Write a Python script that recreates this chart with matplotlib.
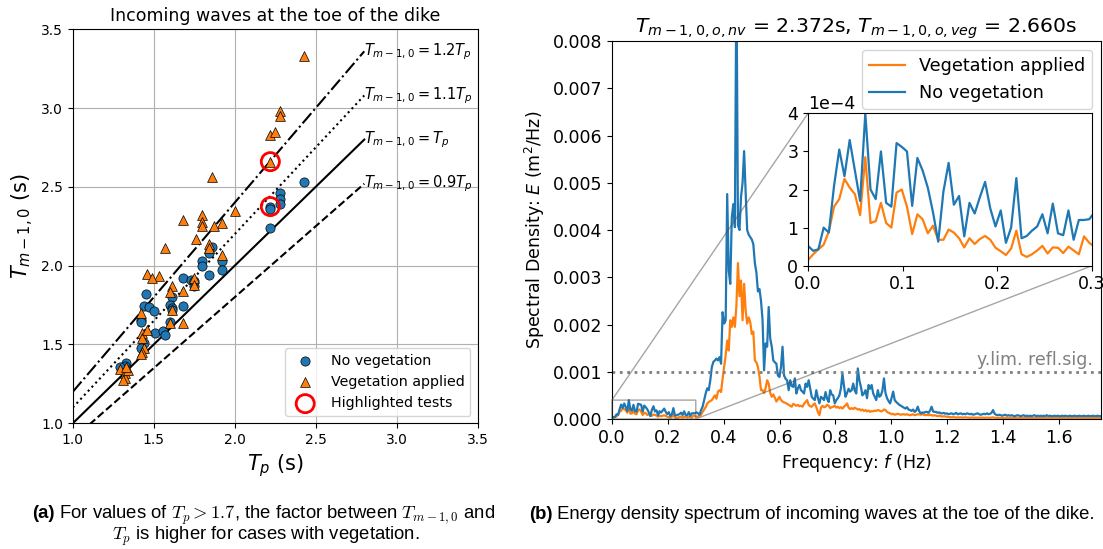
import numpy as np
import matplotlib
matplotlib.use("Agg")
import matplotlib.pyplot as plt
from matplotlib.offsetbox import TextArea, HPacker, AnchoredOffsetbox

# ---- (a) wave periods at the toe of the dike ----
nv_tp = [2.43, 2.28, 2.28, 2.28, 2.22, 2.22, 2.22, 1.86, 1.84, 1.80, 1.80, 1.84, 1.92,
         1.92, 1.68, 1.73, 1.75, 1.75, 1.45, 1.61, 1.60, 1.61, 1.44, 1.47, 1.50, 1.68,
         1.42, 1.42, 1.60, 1.51, 1.56, 1.57, 1.44, 1.42, 1.33, 1.32, 1.29, 1.61]
nv_tm = [2.53, 2.46, 2.42, 2.39, 2.375, 2.36, 2.24, 2.12, 2.08, 2.03, 2.00, 1.94, 2.03,
         1.97, 1.92, 1.91, 1.87, 1.90, 1.82, 1.80, 1.75, 1.73, 1.745, 1.74, 1.715, 1.745,
         1.655, 1.64, 1.645, 1.575, 1.585, 1.56, 1.51, 1.475, 1.38, 1.365, 1.355, 1.72]

veg_tp = [2.43, 2.28, 2.28, 2.22, 2.25, 2.22, 1.86, 2.00, 1.80, 1.80, 1.80, 1.92, 1.87,
          1.68, 1.76, 1.84, 1.84, 1.92, 1.57, 1.46, 1.53, 1.49, 1.75, 1.75, 1.68, 1.61,
          1.60, 1.61, 1.42, 1.43, 1.43, 1.46, 1.68, 1.60, 1.44, 1.43, 1.42, 1.29, 1.32,
          1.32, 1.31, 1.34, 1.33]
veg_tm = [3.33, 2.98, 2.95, 2.83, 2.845, 2.66, 2.565, 2.35, 2.32, 2.28, 2.25, 2.27, 2.25,
          2.29, 2.17, 2.135, 2.11, 2.07, 2.11, 1.95, 1.935, 1.92, 1.92, 1.88, 1.84, 1.87,
          1.83, 1.72, 1.70, 1.575, 1.54, 1.595, 1.635, 1.635, 1.475, 1.455, 1.44, 1.345,
          1.32, 1.29, 1.275, 1.34, 1.36]

hl_tp = [2.22, 2.22]
hl_tm = [2.66, 2.375]

factors = [1.2, 1.1, 1.0, 0.9]
factor_styles = ["-.", ":", "-", "--"]
factor_labels = [r"$T_{m-1,0} = 1.2T_p$", r"$T_{m-1,0} = 1.1T_p$",
                 r"$T_{m-1,0} = T_p$", r"$T_{m-1,0} = 0.9T_p$"]

# ---- (b) energy density spectrum, values in 1e-4 m^2/Hz, df = 0.0055 Hz ----
DF = 0.0055
spec_noveg = [
    0.52, 0.39, 0.43, 1.0, 0.87, 2.1, 3.05, 2.35, 3.3, 2.5,
    1.7, 4.0, 2.0, 1.75, 3.0, 1.65, 1.55, 3.22, 3.12, 3.0,
    1.57, 2.83, 2.5, 2.05, 1.4, 0.63, 1.95, 2.7, 1.6, 1.83,
    0.77, 1.65, 1.37, 1.8, 2.2, 1.5, 1.03, 1.45, 0.6, 1.0,
    2.3, 0.72, 0.78, 0.92, 1.03, 1.35, 0.85, 1.63, 0.85, 0.8,
    1.45, 0.68, 1.2, 1.2, 1.22,
    1.4, 1.2, 0.9, 1.9, 2.6, 4.0, 5.4, 6.5, 6.1, 8.2,
    11.0, 12.1, 12.4, 12.8, 12.4, 13.1, 11.7, 22.6, 20.2, 20.9,
    47.6, 31.4, 28.6, 42.7, 45.5, 40.6, 95.0, 41.0, 40.0, 47.0,
    50.0, 56.7, 48.0, 40.0, 39.0, 38.5, 38.0, 37.0, 33.0, 31.0,
    27.0, 27.5, 25.0, 21.0, 10.3,
    16.0, 15.3, 23.7, 17.0, 15.3, 12.4, 12.0, 11.7, 9.2, 8.9,
    11.0, 15.3, 9.2, 8.5, 8.2, 6.1, 8.2, 7.0, 6.8, 8.6,
    5.4, 6.5, 7.2, 6.1, 5.8, 5.4, 7.5, 6.8, 8.2, 6.4,
    4.7, 4.3, 4.0, 6.1, 4.5, 3.3, 4.7, 4.4, 4.0, 5.7,
    4.3, 3.6, 6.1, 5.2, 5.0, 3.3, 4.0, 4.4, 5.0, 6.5,
    9.6, 7.0, 4.7, 5.5, 6.4, 5.8, 6.1, 7.5, 6.0, 5.4,
    10.7, 8.2, 6.8, 5.0, 5.4, 6.1, 4.4, 7.2, 6.4, 7.2,
    5.4, 4.7, 4.0, 6.1, 4.7, 5.0, 6.0, 8.6, 5.5, 4.4,
    3.8, 3.3, 4.5, 5.8, 4.0, 3.6, 3.3, 3.0, 2.8, 2.6,
    2.4, 2.2, 2.5, 2.0, 1.9, 1.7, 2.0, 1.5, 1.8, 2.6,
    1.6, 1.2, 1.4, 1.3, 1.5, 1.5, 1.3, 1.8, 2.6, 1.6,
    1.5, 1.5, 1.3, 1.4, 1.2, 1.2, 1.3, 1.1, 1.2, 1.0,
    1.1, 1.2, 1.0, 1.1, 1.3, 1.0, 1.1, 1.2, 1.0, 1.1,
    1.0, 1.2, 1.1, 1.0, 1.1, 0.9, 1.0, 1.1, 1.2, 1.0,
    0.9, 1.0, 1.1, 1.0, 1.2, 1.0, 1.1, 1.3, 1.9, 1.1,
    0.9, 0.8, 0.9, 0.8, 0.7, 0.8, 0.9, 0.7, 0.8, 0.7,
    0.8, 0.7, 0.6, 0.7, 0.8, 0.7, 0.6, 0.7, 0.8, 0.6,
    0.7, 0.6, 0.7, 0.6, 0.7, 0.8, 0.6, 0.7, 0.6, 0.7,
    0.6, 0.7, 0.6, 0.8, 0.6, 0.7, 0.6, 0.6, 0.7, 0.6,
    0.7, 0.6, 0.6, 0.7, 0.6, 0.7, 0.6, 0.6, 0.7, 0.6,
    0.6, 0.7, 0.6, 0.6, 0.7, 0.6, 0.6, 0.7, 0.6, 0.6,
    0.7, 0.6, 0.6, 0.7, 0.6, 0.6, 0.7, 0.6, 0.6,
]
spec_veg = [
    0.15, 0.3, 0.43, 0.55, 0.9, 1.55, 1.75, 2.28, 2.05, 1.88,
    1.33, 2.85, 1.12, 1.17, 1.65, 1.12, 1.0, 1.92, 2.0, 1.55,
    0.83, 1.35, 1.22, 0.85, 1.05, 0.68, 0.68, 0.95, 0.87, 0.72,
    0.48, 0.72, 0.57, 0.7, 0.78, 0.68, 0.47, 0.38, 0.28, 0.45,
    0.92, 0.3, 0.23, 0.3, 0.4, 0.52, 0.32, 0.48, 0.47, 0.33,
    0.5, 0.4, 0.3, 0.77, 0.6,
    0.5, 0.5, 0.7, 0.9, 1.5, 2.0, 2.5, 3.3, 3.6, 3.8,
    4.0, 4.5, 5.0, 4.3, 5.8, 6.1, 5.7, 8.5, 11.0, 13.5,
    16.6, 14.5, 20.9, 19.5, 21.5, 19.5, 24.0, 33.0, 26.0, 29.3,
    20.9, 28.6, 23.0, 20.2, 21.5, 20.5, 18.0, 18.5, 12.4, 12.0,
    11.0, 9.0, 6.1, 6.1, 5.5,
    6.5, 8.2, 7.5, 5.5, 4.7, 5.2, 4.5, 3.7, 4.2, 4.7,
    4.0, 3.7, 3.5, 3.4, 3.2, 3.0, 2.8, 2.6, 3.2, 3.0,
    2.8, 3.0, 2.7, 2.8, 2.6, 3.2, 3.6, 4.0, 3.0, 2.7,
    2.6, 3.0, 3.3, 2.5, 1.5, 0.8, 2.4, 2.8, 2.5, 2.6,
    3.0, 2.8, 2.3, 2.5, 2.6, 2.8, 2.4, 2.6, 2.3, 2.5,
    2.2, 2.6, 2.9, 3.3, 2.4, 2.1, 2.3, 2.1, 2.4, 2.2,
    2.0, 2.1, 1.8, 2.0, 1.7, 1.9, 1.6, 1.8, 1.5, 1.7,
    1.6, 1.8, 1.7, 1.9, 1.8, 1.6, 1.7, 2.0, 1.9, 1.5,
    1.3, 1.2, 1.0, 1.1, 0.9, 1.0, 1.1, 1.0, 0.9, 1.0,
    1.0, 0.9, 1.0, 0.9, 0.8, 0.9, 1.0, 0.8, 0.9, 1.0,
    1.0, 0.9, 1.0, 0.9, 0.8, 0.9, 0.8, 0.9, 0.8, 0.7,
    0.8, 0.7, 0.6, 0.7, 0.6, 0.5, 0.6, 0.5, 0.5, 0.4,
    0.4, 0.35, 0.4, 0.35, 0.3, 0.35, 0.3, 0.35, 0.3, 0.3,
    0.35, 0.3, 0.3, 0.25, 0.3, 0.3, 0.25, 0.3, 0.25, 0.3,
    0.25, 0.3, 0.25, 0.25, 0.3, 0.25, 0.25, 0.3, 0.35, 0.25,
    0.25, 0.2, 0.25, 0.2, 0.25, 0.2, 0.2, 0.25, 0.2, 0.2,
    0.2, 0.25, 0.2, 0.2, 0.15, 0.2, 0.2, 0.25, 0.2, 0.2,
    0.2, 0.15, 0.2, 0.2, 0.2, 0.15, 0.2, 0.2, 0.15, 0.2,
    0.2, 0.2, 0.15, 0.2, 0.15, 0.2, 0.2, 0.15, 0.2, 0.15,
    0.2, 0.15, 0.2, 0.15, 0.2, 0.15, 0.15, 0.2, 0.15, 0.2,
    0.15, 0.2, 0.15, 0.15, 0.2, 0.15, 0.15, 0.2, 0.15, 0.15,
    0.2, 0.15, 0.15, 0.2, 0.15, 0.15, 0.2, 0.15, 0.15,
]
REFL_LIMIT = 0.001
tm_nv = 2.372
tm_veg = 2.660

BLUE = "#1f77b4"
ORANGE = "#ff7f0e"

fig = plt.figure(figsize=(11.03, 5.49), dpi=100)

# ---------------- left panel ----------------
ax1 = fig.add_axes([0.066, 0.229, 0.367, 0.7177])
tp_line = np.array([1.0, 2.8])
for fac, ls, lab in zip(factors, factor_styles, factor_labels):
    ax1.plot(tp_line, fac * tp_line, color="k", ls=ls, lw=1.5, zorder=2)
    ax1.text(tp_line[-1], fac * tp_line[-1], lab, fontsize=10.5, ha="left", va="center")

ax1.scatter(nv_tp, nv_tm, s=44, c=BLUE, marker="o", edgecolors="k", linewidths=0.5,
            zorder=3, label="No vegetation")
ax1.scatter(veg_tp, veg_tm, s=50, c=ORANGE, marker="^", edgecolors="k", linewidths=0.5,
            zorder=3, label="Vegetation applied")
ax1.scatter(hl_tp, hl_tm, s=170, facecolors="none", edgecolors="red", linewidths=2,
            zorder=4, label="Highlighted tests")

ax1.set_xlim(1.0, 3.5)
ax1.set_ylim(1.0, 3.5)
ax1.set_xticks(np.arange(1.0, 3.51, 0.5))
ax1.set_yticks(np.arange(1.0, 3.51, 0.5))
ax1.tick_params(labelsize=10)
ax1.grid(True, zorder=0)
ax1.set_axisbelow(True)
ax1.set_title("Incoming waves at the toe of the dike", fontsize=12.5)
ax1.set_xlabel(r"$T_p$ (s)", fontsize=15)
ax1.set_ylabel(r"$T_{m-1,0}$ (s)", fontsize=15)
ax1.legend(loc="lower right", fontsize=10.3)

# ---------------- right panel ----------------
ax2 = fig.add_axes([0.5548, 0.2368, 0.4433, 0.6885])
freq = np.arange(len(spec_noveg)) * DF
e_nv = np.array(spec_noveg) * 1e-4
e_veg = np.array(spec_veg) * 1e-4

ax2.plot(freq, e_veg, color=ORANGE, lw=1.6, label="Vegetation applied")
ax2.plot(freq, e_nv, color=BLUE, lw=1.6, label="No vegetation")
ax2.axhline(REFL_LIMIT, color="gray", ls=":", lw=2)
ax2.text(1.72, REFL_LIMIT * 1.05, "y.lim. refl.sig.", color="gray", fontsize=12.5,
         ha="right", va="bottom")
ax2.set_xlim(0, 1.75)
ax2.set_ylim(0, 0.008)
ax2.set_xticks(np.arange(0, 1.61, 0.2))
ax2.set_yticks(np.arange(0, 0.0081, 0.001))
ax2.yaxis.set_major_formatter(plt.FormatStrFormatter("%.3f"))
ax2.tick_params(labelsize=12.5)
ax2.set_xlabel(r"Frequency: $f$ (Hz)", fontsize=12.5)
ax2.set_ylabel(r"Spectral Density: $E$ (m$^2$/Hz)", fontsize=12.5)
ax2.set_title(r"$T_{m-1,0,o,nv}$ = %.3fs, $T_{m-1,0,o,veg}$ = %.3fs" % (tm_nv, tm_veg),
              fontsize=14.7)
ax2.legend(loc="upper right", fontsize=12.7)

axins = ax2.inset_axes([0.401, 0.4056, 0.581, 0.403])
axins.plot(freq, e_veg, color=ORANGE, lw=1.6)
axins.plot(freq, e_nv, color=BLUE, lw=1.6)
axins.set_xlim(0, 0.3)
axins.set_ylim(0, 0.0004)
axins.set_xticks([0.0, 0.1, 0.2, 0.3])
axins.set_yticks([0, 0.0001, 0.0002, 0.0003, 0.0004])
axins.ticklabel_format(axis="y", style="sci", scilimits=(0, 0))
axins.tick_params(labelsize=12.5)
axins.yaxis.get_offset_text().set_fontsize(12.5)
ind = ax2.indicate_inset_zoom(axins, edgecolor="0.3")
for con, vis in zip(ind.connectors, [False, True, True, False]):
    con.set_visible(vis)

# ---------------- captions ----------------
cap_font = dict(fontsize=13.3, family="Liberation Sans", math_fontfamily="cm")


def caption(parts, x, y):
    boxes = [TextArea(txt, textprops=dict(cap_font, fontweight=w)) for txt, w in parts]
    pack = HPacker(children=boxes, align="baseline", pad=0, sep=0)
    anc = AnchoredOffsetbox(loc="center", child=pack, frameon=False, pad=0, borderpad=0,
                            bbox_to_anchor=(x, y), bbox_transform=fig.transFigure)
    fig.add_artist(anc)


caption([("(a)", "bold"),
         (r" For values of $T_p > 1.7$, the factor between $T_{m-1,0}$ and", "normal")],
        0.239, 0.062)
caption([(r"$T_p$ is higher for cases with vegetation.", "normal")], 0.241, 0.023)
caption([("(b)", "bold"),
         (" Energy density spectrum of incoming waves at the toe of the dike.", "normal")],
        0.736, 0.062)

fig.savefig("out.png", dpi=100)
